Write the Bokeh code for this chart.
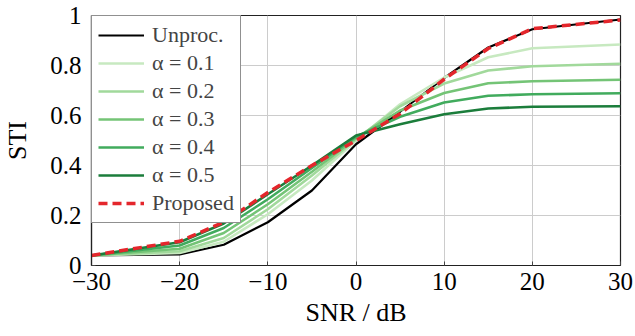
from bokeh.plotting import figure
from bokeh.models import Range1d, FixedTicker
from bokeh.embed import file_html
from bokeh.resources import INLINE

snr = [-30, -20, -15, -10, -5, 0, 5, 10, 15, 20, 30]
unproc = [0.04, 0.044, 0.083, 0.173, 0.30, 0.485, 0.615, 0.75, 0.872, 0.945, 0.984]
alpha_01 = [0.04, 0.050, 0.095, 0.205, 0.34, 0.50, 0.645, 0.752, 0.833, 0.869, 0.884]
alpha_02 = [0.04, 0.057, 0.110, 0.225, 0.36, 0.505, 0.637, 0.728, 0.780, 0.797, 0.807]
alpha_03 = [0.04, 0.067, 0.130, 0.245, 0.375, 0.51, 0.620, 0.690, 0.729, 0.737, 0.743]
alpha_04 = [0.04, 0.080, 0.150, 0.265, 0.39, 0.515, 0.595, 0.652, 0.679, 0.685, 0.689]
alpha_05 = [0.04, 0.093, 0.168, 0.285, 0.40, 0.52, 0.565, 0.605, 0.628, 0.635, 0.637]
proposed = [0.04, 0.097, 0.173, 0.292, 0.40, 0.50, 0.607, 0.745, 0.868, 0.947, 0.982]

alpha_series = [alpha_01, alpha_02, alpha_03, alpha_04, alpha_05]
alpha_labels = ["α = 0.1", "α = 0.2", "α = 0.3", "α = 0.4", "α = 0.5"]
alpha_colors = ["#c7e9c0", "#a1d99b", "#74c476", "#41ab5d", "#1b7d3b"]

x_ticks = [-30, -20, -10, 0, 10, 20, 30]
x_tick_labels = ["−30", "−20", "−10", "0", "10", "20", "30"]
y_ticks = [0, 0.2, 0.4, 0.6, 0.8, 1.0]
y_tick_labels = ["0", "0.2", "0.4", "0.6", "0.8", "1"]

FONT = "Liberation Serif"

p = figure(frame_width=529, frame_height=250, output_backend="svg", toolbar_location=None,
           x_range=Range1d(-30, 30), y_range=Range1d(0, 1),
           min_border_left=91, min_border_right=15, min_border_top=15, min_border_bottom=70)
p.background_fill_color = "white"
p.border_fill_color = "white"
p.outline_line_color = "#222222"
p.outline_line_width = 1.2

p.xaxis.ticker = FixedTicker(ticks=x_ticks)
p.yaxis.ticker = FixedTicker(ticks=y_ticks)
p.xaxis.major_label_overrides = {t: l for t, l in zip(x_ticks, x_tick_labels)}
p.yaxis.major_label_overrides = {t: l for t, l in zip(y_ticks, y_tick_labels)}
p.xaxis.axis_label = "SNR / dB"
p.yaxis.axis_label = "STI"

for ax in [p.xaxis[0], p.yaxis[0]]:
    ax.axis_line_color = "#222222"
    ax.axis_line_width = 1.2
    ax.major_tick_in = 4
    ax.major_tick_out = 0
    ax.major_tick_line_color = "#444444"
    ax.minor_tick_line_color = None
    ax.major_label_text_font = FONT
    ax.major_label_text_font_size = "25px"
    ax.major_label_text_color = "black"
    ax.axis_label_text_font = FONT
    ax.axis_label_text_font_size = "26px"
    ax.axis_label_text_font_style = "normal"
    ax.axis_label_text_color = "black"
p.xaxis.major_label_standoff = 7
p.xaxis.axis_label_standoff = 5
p.yaxis.major_label_standoff = 10
p.yaxis.axis_label_standoff = 15

p.grid.grid_line_color = "#cccccc"
p.grid.grid_line_width = 1

p.line(snr, unproc, line_color="black", line_width=2.2, legend_label="Unproc.")
for ys, lab, col in zip(alpha_series, alpha_labels, alpha_colors):
    p.line(snr, ys, line_color=col, line_width=2.6, legend_label=lab)
p.line(snr, proposed, line_color="#e4262c", line_width=3.5, line_dash="9 5",
       legend_label="Proposed")

lg = p.legend[0]
lg.location = "top_left"
lg.margin = 0
lg.padding = 6
lg.spacing = 2
lg.glyph_width = 46
lg.glyph_height = 22
lg.label_height = 22
lg.label_standoff = 8
lg.label_text_font = FONT
lg.label_text_font_size = "22px"
lg.border_line_color = "#222222"
lg.border_line_width = 1
lg.background_fill_alpha = 1
lg.background_fill_color = "white"

open("out.html", "w").write(file_html(p, INLINE))
